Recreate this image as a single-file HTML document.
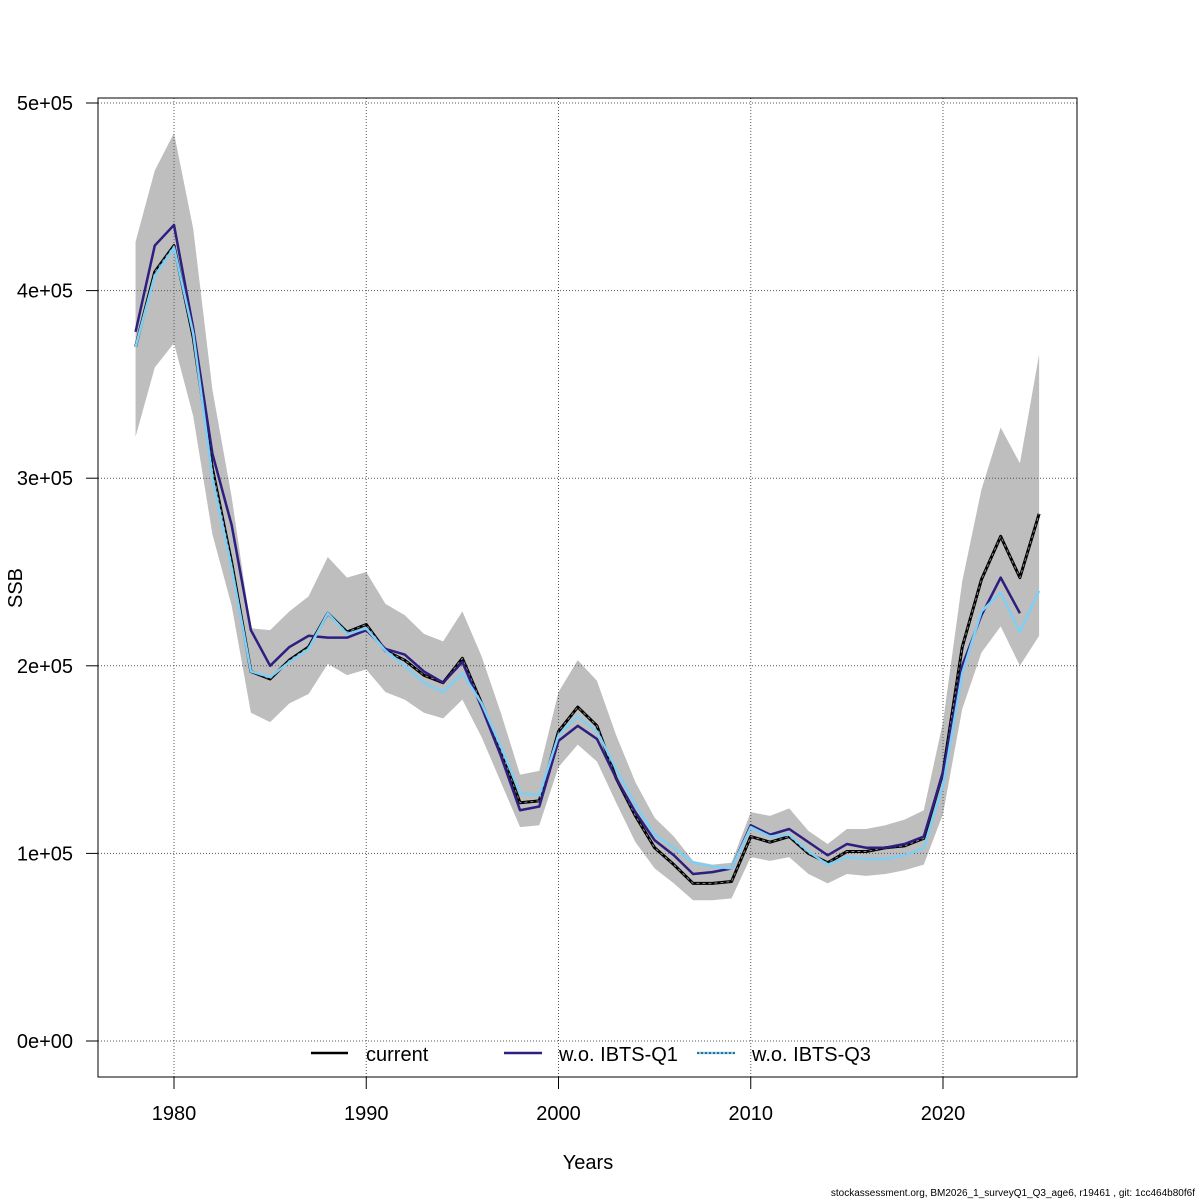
<!DOCTYPE html>
<html><head><meta charset="utf-8"><style>
html,body{margin:0;padding:0;background:#fff;}
svg{display:block;font-family:"Liberation Sans",Arial,sans-serif;}
</style></head><body>
<svg id="chart" width="1200" height="1200" viewBox="0 0 1200 1200" xmlns="http://www.w3.org/2000/svg">
<rect width="1200" height="1200" fill="#fff"/>
<g id="band"></g>
<g id="grid"></g>
<g id="series"></g>
<rect x="98" y="98" width="979" height="979" fill="none" stroke="#000" stroke-width="1"/>
<g id="axes"></g>
<text x="588" y="1169" font-size="20" text-anchor="middle">Years</text>
<text transform="translate(22,588) rotate(-90)" font-size="20" text-anchor="middle">SSB</text>
<text x="1195" y="1196" font-size="10" text-anchor="end">stockassessment.org, BM2026_1_surveyQ1_Q3_age6, r19461 , git: 1cc464b80f6f</text>
<g id="legend">
  <line x1="311" y1="1053" x2="348" y2="1053" stroke="#000" stroke-width="2.5"/>
  <text x="366" y="1061" font-size="20">current</text>
  <line x1="504" y1="1053" x2="542" y2="1053" stroke="#2d1e80" stroke-width="2.5"/>
  <text x="559" y="1061" font-size="20">w.o. IBTS-Q1</text>
  <line x1="697" y1="1053" x2="735" y2="1053" stroke="#7fcff5" stroke-width="2.5"/>
  <line x1="697" y1="1053" x2="735" y2="1053" stroke="#000" stroke-width="1" stroke-dasharray="2,2"/>
  <text x="752" y="1061" font-size="20">w.o. IBTS-Q3</text>
</g>
</svg>
<script>
const years = [];
for (let y = 1978; y <= 2025; y++) years.push(y);
const current = [370,410,424,375,305,255,197,193,203,210,228,218,222,208,203,195,191,204,180,155,127,128,165,178,168,140,120,103,94,84,84,85,109,106,109,100,95,101,101,103,104,108,143,210,246,269,247,281];
const woQ1 = [378,424,435,380,313,275,219,200,210,216,215,215,219,209,206,197,191,202,178,152,123,125,160,168,161,140,122,107,99,89,90,92,115,110,113,106,99,105,103,103,105,109,143,200,227,247,228];
const woQ3 = [370,408,423,377,300,252,197,194,202,209,228,217,220,208,200,191,186,196,180,157,132,131,163,173,165,145,126,110,103,95,93,92,114,109,110,101,94,98,97,97,99,103,136,196,229,239,218,240];
const upper = [426,464,484,433,347,290,220,219,229,237,258,247,250,233,227,217,213,229,205,175,142,144,186,203,192,163,138,119,109,96,94,95,122,120,124,112,105,113,113,115,118,123,170,245,294,327,308,366];
const lower = [322,359,372,333,270,232,175,170,180,185,201,195,198,186,182,175,172,182,162,138,114,115,146,158,149,127,106,92,84,75,75,76,98,96,98,89,84,89,88,89,91,94,121,177,207,221,200,216];
const xTicks = [1980,1990,2000,2010,2020];
const yTicks = [0,100,200,300,400,500];
const yTickLabels = ["0e+00","1e+05","2e+05","3e+05","4e+05","5e+05"];

const NS = "http://www.w3.org/2000/svg";
const X = yr => 174 + (yr - 1980) * 19.225;
const Y = v => 1041 - v * 1.876;
function mk(tag, attrs, parent) {
  const e = document.createElementNS(NS, tag);
  for (const k in attrs) e.setAttribute(k, attrs[k]);
  parent.appendChild(e);
  return e;
}
const band = document.getElementById('band');
const grid = document.getElementById('grid');
const series = document.getElementById('series');
const axes = document.getElementById('axes');

let d = years.map((yr,i)=>(i?'L':'M')+X(yr)+','+Y(upper[i])).join(' ');
for (let i = years.length-1; i >= 0; i--) d += ' L'+X(years[i])+','+Y(lower[i]);
const bp = mk('path', {d: d+' Z', fill:'#bebebe', stroke:'none'}, band);



xTicks.forEach(t=>{
  const l = mk('line',{x1:X(t),x2:X(t),y1:98,y2:1077,stroke:'#555','stroke-dasharray':'1,2','stroke-width':1},grid);
  
  
  const tk = mk('line',{x1:X(t),x2:X(t),y1:1077,y2:1089,stroke:'#000'},axes);
  
  
  const tx = mk('text',{x:X(t),y:1120,'font-size':20,'text-anchor':'middle'},axes);
  tx.textContent = t;
  
  
});
yTicks.forEach((t,i)=>{
  const l = mk('line',{x1:98,x2:1077,y1:Y(t),y2:Y(t),stroke:'#555','stroke-dasharray':'1,2','stroke-width':1},grid);
  
  
  const tk = mk('line',{x1:86,x2:98,y1:Y(t),y2:Y(t),stroke:'#000'},axes);
  
  
  const tx = mk('text',{x:73,y:Y(t)+7,'font-size':20,'text-anchor':'end'},axes);
  tx.textContent = yTickLabels[i];
  
  
});

function line(vals, attrs, name) {
  const p = vals.map((v,i)=>(i?'L':'M')+X(years[i])+','+Y(v)).join(' ');
  const el = mk('path', Object.assign({d:p, fill:'none','stroke-linejoin':'round'}, attrs), series);
  
  
}
line(current, {stroke:'#000','stroke-width':3}, 'line-current');
line(current, {stroke:'#888','stroke-width':1,'stroke-dasharray':'3,3'}, 'line-current-dash');
line(woQ1, {stroke:'#2d1e80','stroke-width':2.5}, 'line-wo-ibts-q1');
line(woQ3, {stroke:'#7fcff5','stroke-width':2.5}, 'line-wo-ibts-q3');
</script>
</body></html>
